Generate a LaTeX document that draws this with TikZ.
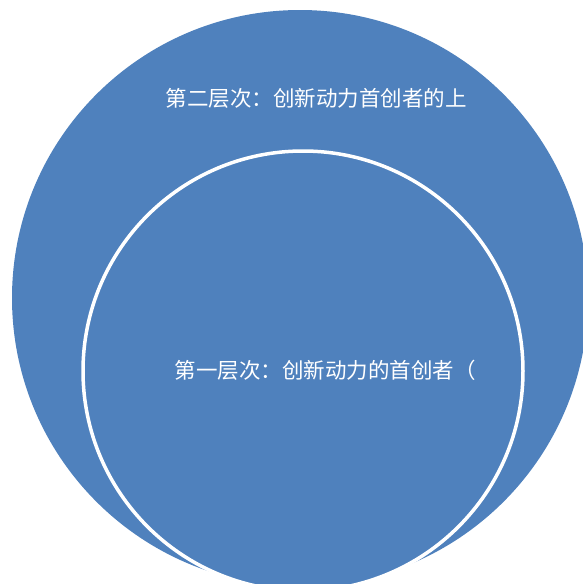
\documentclass[tikz,border=0pt]{standalone}
\usepackage{fontspec}
\newfontfamily\cjk{Noto Sans CJK SC}
\usetikzlibrary{positioning}
\definecolor{layerblue}{HTML}{4F81BD}
\tikzset{
    layer/.style={circle, inner sep=0pt, fill=layerblue},
    innerlayer/.style={layer, draw=white, line width=3.5pt},
    label/.style={text=white, inner sep=0pt, font=\cjk\fontsize{21.5pt}{23pt}\selectfont}
}
\begin{document}
\begin{tikzpicture}[x=1pt, y=-1pt]
        \useasboundingbox (0,0) rectangle (583,584);
        \clip (0,0) rectangle (583,584);

        % Layers
        \node (outer) [layer, minimum size=576pt] at (300,298) {};
        \node (inner) [innerlayer, minimum size=440pt] at (303,371) {};

        % Labels
        \node (second) [label] at (316,98) {第二层次：创新动力首创者的上};
        \node (first) [label] at (325,370) {第一层次：创新动力的首创者（};

    \end{tikzpicture}
\end{document}
